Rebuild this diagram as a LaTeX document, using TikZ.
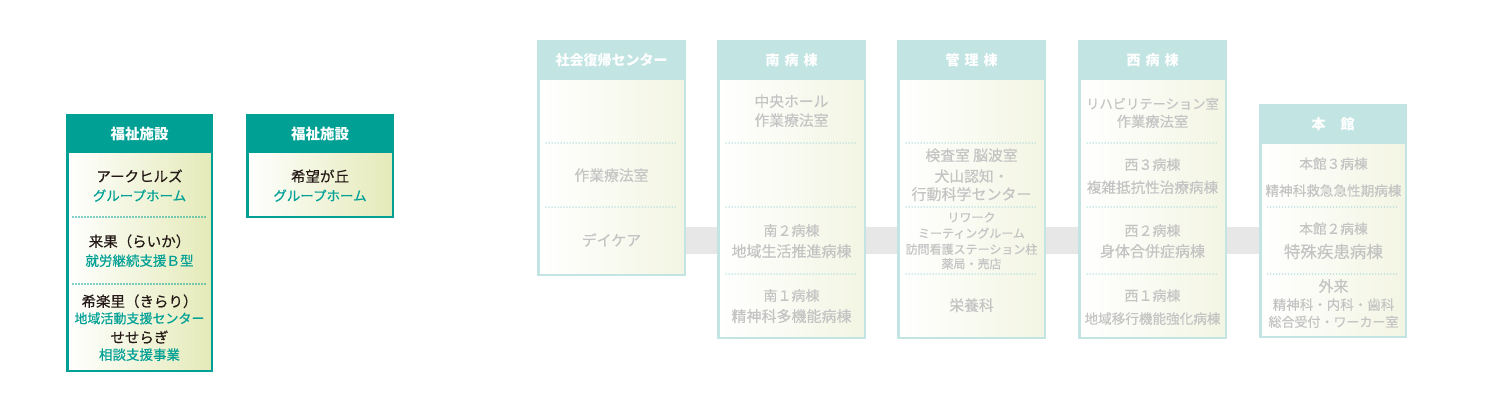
\documentclass[tikz,border=0pt]{standalone}
\usepackage{fontspec}
\newfontfamily\jp{Noto Sans CJK JP}
\newfontfamily\jpm{Noto Sans CJK JP}[FakeBold=0.35]
\usetikzlibrary{backgrounds}
\definecolor{tealA}{HTML}{00A095}
\definecolor{ltealA}{HTML}{C2E5E3}
\definecolor{dotcA}{HTML}{A5DADA}
\definecolor{gtextA}{HTML}{C4C4C4}
\definecolor{dtextA}{HTML}{231815}
\definecolor{ylwA}{HTML}{E4EAB8}
\definecolor{pylwA}{HTML}{F3F5E3}
\definecolor{bandA}{HTML}{E7E7E7}
\begin{document}
\begin{tikzpicture}[x=1pt,y=-1pt,
  fs/.style={font=\jpm\fontsize{#1}{#1}\selectfont},
  txt/.style={inner sep=0pt, text height=0.88em, text depth=0.12em, anchor=center},
  dk/.style={txt, text=dtextA, fs=#1},
  tl/.style={txt, text=tealA, fs=#1},
  gr/.style={txt, text=gtextA, fs=#1},
  lbox/.style={draw=tealA, line width=2.5pt, left color=white, right color=ylwA, inner sep=0pt, outer sep=0pt},
  lhead/.style={fill=tealA, text=white, inner sep=0pt, outer sep=0pt, font=\jp\bfseries\fontsize{14.5}{14.5}\selectfont},
  rbox/.style={draw=ltealA, line width=2.5pt, left color=white, right color=pylwA, inner sep=0pt, outer sep=0pt},
  rhead/.style={fill=ltealA, text=white, inner sep=0pt, outer sep=0pt, font=\jp\bfseries\fontsize{14}{14}\selectfont},
  ldots/.style={draw=tealA, line width=1.6pt, line cap=round, dash pattern=on 0pt off 3pt},
  rdots/.style={draw=dotcA, line width=1.5pt, line cap=round, dash pattern=on 0pt off 3pt},
  corridor/.style={draw=bandA, line width=27pt}]
\useasboundingbox (0,0) rectangle (1500,400);

% ---------- left welfare boxes ----------
\node[lbox, minimum width=144.5pt, minimum height=255.5pt] (b1) at (139.5,243) {};
\node[lhead, minimum width=147pt, minimum height=39pt] (h1) at (139.5,133.5) {福祉施設};
\draw[ldots] (73,217) -- (206,217);
\draw[ldots] (73,284) -- (206,284);
\node[dk=14.5] (t11) at (139.5,178) {アークヒルズ};
\node[tl=13.5] (t12) at (139.5,197) {グループホーム};
\node[dk=14.5] (t13) at (139.5,243) {来果（らいか）};
\node[tl=13.5] (t14) at (139.5,262) {就労継続支援Ｂ型};
\node[dk=14.5] (t15) at (139.5,303) {希楽里（きらり）};
\node[tl=13] (t16) at (139.5,319.5) {地域活動支援センター};
\node[dk=14.5] (t17) at (139.5,339) {せせらぎ};
\node[tl=13.5] (t18) at (139.5,356) {相談支援事業};

\node[lbox, minimum width=145.5pt, minimum height=101.5pt] (b2) at (320,166) {};
\node[lhead, minimum width=148pt, minimum height=39pt] (h2) at (320,133.5) {福祉施設};
\node[dk=14.5] (t21) at (320,178) {希望が丘};
\node[tl=13.5] (t22) at (320,197) {グループホーム};

% ---------- right buildings ----------
\node[rbox, minimum width=146.5pt, minimum height=233.5pt] (c1) at (611.5,158) {};
\node[rbox, minimum width=146.5pt, minimum height=296.5pt] (c2) at (791.5,189.5) {};
\node[rbox, minimum width=146.5pt, minimum height=296.5pt] (c3) at (971.5,189.5) {};
\node[rbox, minimum width=146.5pt, minimum height=296.5pt] (c4) at (1152.5,189.5) {};
\node[rbox, minimum width=145.5pt, minimum height=231.5pt] (c5) at (1333,221) {};

\coordinate (k1) at (c1.east |- 0,240.5);
\coordinate (k5) at (c5.west |- 0,240.5);
\begin{scope}[on background layer]
\draw[corridor] (k1) -- (k5);
\end{scope}

\node[rhead, minimum width=149pt, minimum height=40pt] (r1) at (611.5,60) {社会復帰センター};
\node[rhead, minimum width=149pt, minimum height=40pt] (r2) at (791.5,60) {南\hspace{5pt}病\hspace{5pt}棟};
\node[rhead, minimum width=149pt, minimum height=40pt] (r3) at (971.5,60) {管\hspace{5pt}理\hspace{5pt}棟};
\node[rhead, minimum width=149pt, minimum height=40pt] (r4) at (1152.5,60) {西\hspace{5pt}病\hspace{5pt}棟};
\node[rhead, minimum width=148pt, minimum height=40pt] (r5) at (1333,124) {本\hspace{15pt}館};

% dotted separators
\draw[rdots] (546,143) -- (677,143);
\draw[rdots] (546,207) -- (677,207);
\foreach \cx in {791.5,971.5,1152.5}{
  \draw[rdots] (\cx-65.5,143) -- (\cx+65.5,143);
  \draw[rdots] (\cx-65.5,207) -- (\cx+65.5,207);
  \draw[rdots] (\cx-65.5,274) -- (\cx+65.5,274);
}
\draw[rdots] (1267.5,207) -- (1398.5,207);
\draw[rdots] (1267.5,274) -- (1398.5,274);

% column 1
\node[gr=14.8] (g11) at (611.5,177) {作業療法室};
\node[gr=14.8] (g12) at (611.5,242) {デイケア};
% column 2
\node[gr=14.8] (g21) at (791.5,103) {中央ホール};
\node[gr=14.8] (g22) at (791.5,122) {作業療法室};
\node[gr=14] (g23) at (791.5,232) {南２病棟};
\node[gr=15] (g24) at (791.5,253) {地域生活推進病棟};
\node[gr=14] (g25) at (791.5,297) {南１病棟};
\node[gr=15] (g26) at (791.5,318) {精神科多機能病棟};
% column 3
\node[gr=14.8] (g31) at (971.5,157) {検査室 脳波室};
\node[gr=14.8] (g32) at (971.5,178) {犬山認知・};
\node[gr=15] (g33) at (971.5,196) {行動科学センター};
\node[gr=12] (g34) at (971.5,218) {リワーク};
\node[gr=12] (g35) at (971.5,234) {ミーティングルーム};
\node[gr=12] (g36) at (971.5,250) {訪問看護ステーション柱};
\node[gr=12] (g37) at (971.5,264.5) {薬局・売店};
\node[gr=14.8] (g38) at (971.5,307) {栄養科};
% column 4
\node[gr=13.3] (g41) at (1152.5,105) {リハビリテーション室};
\node[gr=14.3] (g42) at (1152.5,123) {作業療法室};
\node[gr=14] (g43) at (1152.5,166) {西３病棟};
\node[gr=14.6] (g44) at (1152.5,189) {複雑抵抗性治療病棟};
\node[gr=14] (g45) at (1152.5,232) {西２病棟};
\node[gr=15] (g46) at (1152.5,253) {身体合併症病棟};
\node[gr=14] (g47) at (1152.5,297) {西１病棟};
\node[gr=13.6] (g48) at (1152.5,320) {地域移行機能強化病棟};
% column 5
\node[gr=13.7] (g51) at (1333.5,165) {本館３病棟};
\node[gr=13.6] (g52) at (1333.5,192) {精神科救急急性期病棟};
\node[gr=13.7] (g53) at (1333.5,230) {本館２病棟};
\node[gr=16.5] (g54) at (1333.5,254) {特殊疾患病棟};
\node[gr=15] (g55) at (1333.5,288) {外来};
\node[gr=13.5] (g56) at (1333.5,306) {精神科・内科・歯科};
\node[gr=13] (g57) at (1333.5,323) {総合受付・ワーカー室};
\end{tikzpicture}
\end{document}
